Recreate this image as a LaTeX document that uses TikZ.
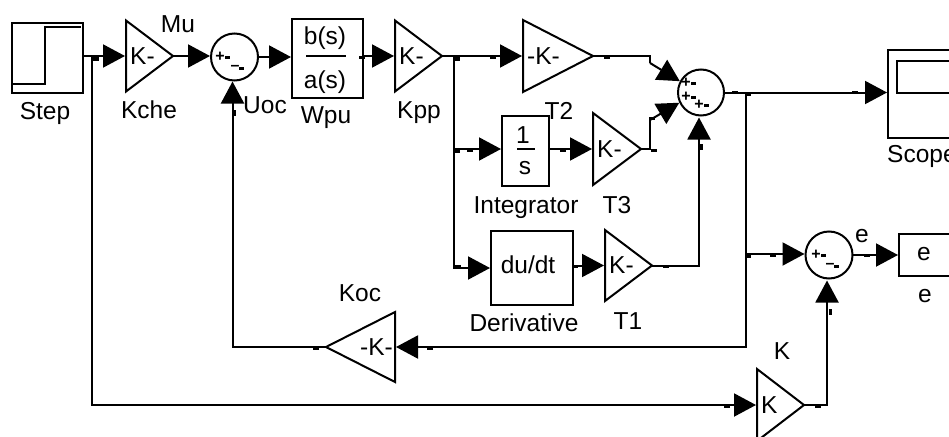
\documentclass[tikz,border=0pt]{standalone}
\usepackage{fontspec}
\setmainfont{Liberation Sans}
\usetikzlibrary{arrows.meta,positioning,calc,shapes.geometric}
\tikzset{
  block/.style={draw, line width=2pt, inner sep=0pt, outer sep=0pt},
  gain/.style={draw, line width=2pt, isosceles triangle, isosceles triangle stretches,
    minimum width=#1, minimum height=47pt, inner sep=0pt, outer sep=0pt, anchor=lower side},
  gain/.default=71pt,
  sum/.style={draw, circle, line width=2pt, minimum size=47pt, inner sep=0pt, outer sep=0pt},
  txt/.style={font=\fontsize{24.5}{26}\selectfont, inner sep=0pt},
  sign/.style={font=\fontsize{16}{16}\bfseries\selectfont, inner sep=0pt},
  wire/.style={line width=2pt},
  sig/.style={wire, -{Triangle[length=22pt,width=23pt]}, shorten >=1pt},
}
\begin{document}
\begin{tikzpicture}[x=1pt, y=-1pt]
    \useasboundingbox (0,0) rectangle (949,436);
    \clip (0,0) rectangle (949,436);
    % blocks of the upper row
    \node[block, minimum width=71pt, minimum height=70pt] (stepblk) at (47.5,58) {};
    \draw[wire] (11,84) -- (45,84) -- (45,27) -- (81,27);
    \node[gain] (kche) at (126,56) {};
    \node[sum] (sumA) at (234.5,57) {};
    \node[block, minimum width=71pt, minimum height=79pt] (wpu) at (327.5,58.5) {};
    \node[gain] (kpp) at (395,56) {};
    \node[gain=72pt, minimum height=70pt] (t2) at (523,56) {};
    \node[sum, minimum size=46pt] (sumB) at (701,92.5) {};
    \node[block, minimum width=90pt, minimum height=88pt] (scope) at (933,94) {};
    \node[block, minimum width=80pt, minimum height=32pt] (screen) at (937,77) {};
    % inner branches
    \node[block, minimum width=47pt, minimum height=70pt] (integ) at (525.5,151) {};
    \node[gain, minimum width=72pt, minimum height=48pt] (t3) at (593,149) {};
    \node[block, minimum width=82pt, minimum height=74pt] (deriv) at (532,268) {};
    \node[gain] (t1) at (605,265.5) {};
    % error path and feedback
    \node[sum] (sumC) at (829,255) {};
    \node[block, minimum width=60pt, minimum height=42pt] (eblk) at (929,255) {};
    \node[gain, shape border rotate=180, minimum width=70pt, minimum height=69pt] (koc) at (395,347) {};
    \node[gain=72pt] (kgain) at (757,405) {};
    % branch points
    \coordinate (brA) at (92,56);
    \coordinate (brB) at (454,56);
    \coordinate (brC) at (454,149);
    \coordinate (brD) at (746,92);
    \coordinate (brE) at (746,254);
    \coordinate (kneeA) at (650,63);
    \coordinate (kneeB) at (650,120);
    % texts in the blocks
    \node[txt, right=4pt of kche.lower side] (kcheK) {K-};
    \node[txt, right=4pt of kpp.lower side] (kppK) {K-};
    \node[txt, right=4pt of t2.lower side] (t2K) {-K-};
    \node[txt, right=4pt of t3.lower side] (t3K) {K-};
    \node[txt, right=4pt of t1.lower side] (t1K) {K-};
    \node[txt, right=4pt of kgain.lower side] (kgainK) {K};
    \node[txt, left=2pt of koc.lower side] (kocK) {-K-};
    \node[txt] (bs) at (325,38) {b(s)};
    \node[txt] (as) at (325,82) {a(s)};
    \draw[wire] (306,56) -- (346,56);
    \node[txt] (one) at (523,135) {1};
    \node[txt] (ess) at (525,168) {s};
    \draw[wire] (517,149) -- (535,149);
    \node[txt] (dudt) at (528,265) {du/dt};
    \node[txt] (etxt) at (924,254) {e};
    % labels
    \node[txt] (lstep) at (45,113) {Step};
    \node[txt] (lkche) at (149,110) {Kche};
    \node[txt] (lmu) at (178,24) {Mu};
    \node[txt] (luoc) at (265,105) {Uoc};
    \node[txt] (lwpu) at (326,118) {Wpu};
    \node[txt] (lkpp) at (419,113) {Kpp};
    \node[txt] (lt2) at (559,111) {T2};
    \node[txt] (lt3) at (617,205) {T3};
    \node[txt] (lint) at (526,208) {Integrator};
    \node[txt] (lder) at (524,323) {Derivative};
    \node[txt] (lt1) at (628,321) {T1};
    \node[txt, anchor=west] (lscope) at (887,156) {Scope};
    \node[txt] (le) at (862,236) {e};
    \node[txt] (lee) at (925,296) {e};
    \node[txt] (lkoc) at (360,293) {Koc};
    \node[txt] (lk) at (782,351) {K};
    % signs of the sums
    \node[sign] (pA) at (220,57) {+};
    \node[sign] (mA) at (235,68) {–};
    \node[sign] (pB) at (686,83) {+};
    \node[sign] (qB) at (686,97) {+};
    \node[sign] (rB) at (699,105) {+};
    \node[sign] (pC) at (816,255) {+};
    \node[sign] (mC) at (830,266) {–};
    % connectors
    \draw[sig] (kche.lower side -| stepblk.east) -- (kche.lower side);
    \draw[sig] (kche.apex) -- (sumA.west |- kche.apex);
    \draw[sig] (sumA.east) -- (wpu.west |- sumA.east);
    \draw[sig] (kpp.lower side -| wpu.east) -- (kpp.lower side);
    \draw[wire] (kpp.apex) -- (brB);
    \draw[sig] (brB) -- (t2.lower side);
    \draw[wire] (t2.apex) -| (kneeA);
    \draw[sig] (kneeA) -- (sumB.152);
    \draw[sig] (brB) |- (integ.west |- brC);
    \draw[sig] (t3.lower side -| integ.east) -- (t3.lower side);
    \draw[wire] (t3.apex) -| (kneeB);
    \draw[sig] (kneeB) -- (sumB.205);
    \draw[sig] (brB) |- (deriv.west);
    \draw[sig] (t1.lower side -| deriv.east) -- (t1.lower side);
    \draw[sig, shorten >=2pt] (t1.apex) -| ([xshift=-2pt]sumB.south);
    \draw[sig] (sumB.east) -- (scope.west |- sumB.east);
    \draw[sig] (brD |- brE) -- (sumC.west |- brE);
    \draw[sig] (sumC.east) -- (eblk.west);
    \draw[sig] (brD) |- (koc.lower side);
    \draw[sig] (koc.apex) -| ([xshift=-2pt]sumA.south);
    \draw[sig] (brA) |- (kgain.lower side);
    \draw[sig, shorten >=2pt] (kgain.apex) -| ([xshift=-2pt]sumC.south);
    % port stubs along the lines
    \foreach \c in {(93,57),(454,57),(454,149),(745,92),(745,254)}{
      \fill \c rectangle ++(6,4);}
    \foreach \c in {(607,57),(493,57),(470,150),(563,150),(654,150),(652,118),(735,92),(855,92),
      (773,255),(867,255),(316,348),(430,348),(727,406),(818,406),(458,266),(575,266),(666,266),(362,57)}{
      \fill \c ++(-3,-1) rectangle ++(6,3);}
    \foreach \c in {(233,113),(700,147),(829,312)}{
      \fill \c ++(0,-3) rectangle ++(3,6);}
    % tails of the sum signs
    \foreach \c in {(225,56),(239,67),(691,82),(691,96),(704,104),(821,254),(834,265)}{
      \fill \c rectangle ++(5,2.5);}
  \end{tikzpicture}
\end{document}
